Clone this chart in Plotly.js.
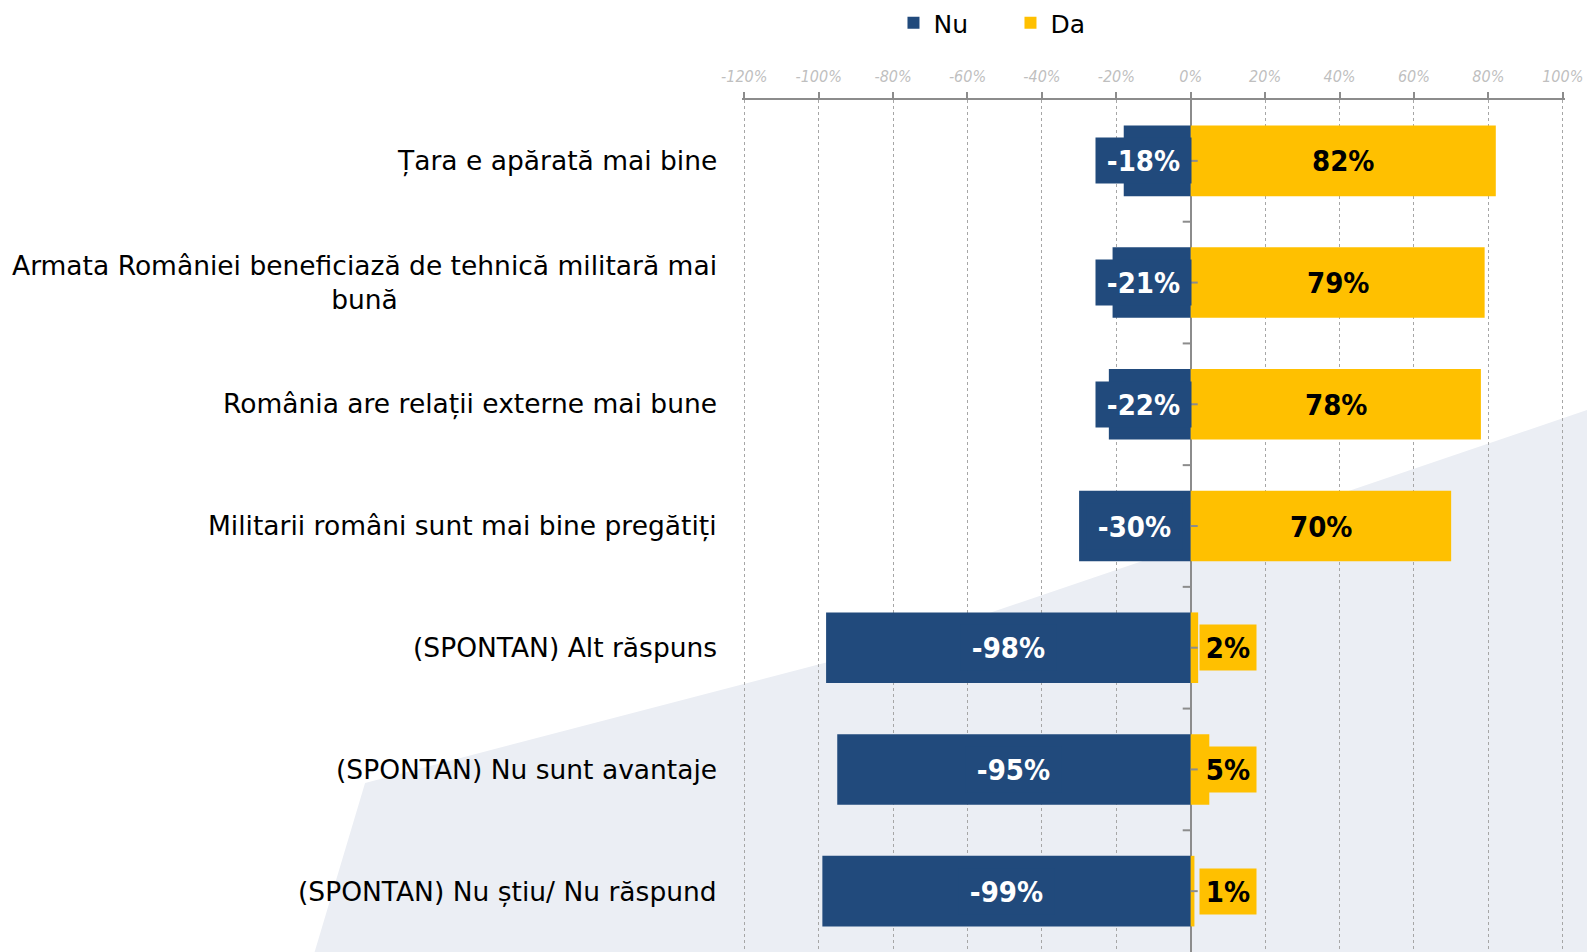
<!DOCTYPE html>
<html>
<head>
<meta charset="utf-8">
<script src="https://cdn.plot.ly/plotly-3.0.1.min.js"></script>
<style>
html,body{margin:0;padding:0;background:#fff;overflow:hidden;}
#chart{width:1587px;height:952px;}
</style>
</head>
<body>
<div id="chart"></div>
<script>
// ---- data ----
const categories = [
  "Țara e apărată mai bine",
  "Armata României beneficiază de tehnică militară mai<br>bună",
  "România are relații externe mai bune",
  "Militarii români sunt mai bine pregătiți",
  "(SPONTAN) Alt răspuns",
  "(SPONTAN) Nu sunt avantaje",
  "(SPONTAN) Nu știu/ Nu răspund"
];
const nuValues = [-18, -21, -22, -30, -98, -95, -99];
const daValues = [82, 79, 78, 70, 2, 5, 1];
const seriesNames = ["Nu", "Da"];
const xTickValues = [-120, -100, -80, -60, -40, -20, 0, 20, 40, 60, 80, 100];
const xTickLabels = ["-120%", "-100%", "-80%", "-60%", "-40%", "-20%", "0%", "20%", "40%", "60%", "80%", "100%"];

// ---- style ----
const NAVY = "#214a7c";
const GOLD = "#ffc000";
const FONT = "'DejaVu Sans', 'Open Sans', sans-serif";
const FONT_C = "'DejaVu Sans Condensed', 'DejaVu Sans', sans-serif";

const traces = [
  {type: "bar", orientation: "h", name: seriesNames[0], y: categories, x: nuValues,
   marker: {color: NAVY}, hoverinfo: "x+y"},
  {type: "bar", orientation: "h", name: seriesNames[1], y: categories, x: daValues,
   marker: {color: GOLD}, hoverinfo: "x+y"}
];

const annotations = [];
categories.forEach((c, i) => {
  // category label
  annotations.push({xref: "paper", yref: "y", x: -0.0275, y: c, xanchor: "right", yanchor: "middle",
    text: c, align: "center", showarrow: false, font: {family: FONT, size: 26.5, color: "#000"}});
  // Nu value label
  const nuText = nuValues[i] + "%";
  annotations.push({xref: "x", yref: "y", x: Math.min(nuValues[i] / 2, -12.7), y: c,
    text: nuText, showarrow: false, bgcolor: NAVY, width: 91, height: 41, borderpad: 2,
    font: {family: FONT_C, size: 29, color: "#fff", weight: "bold"}});
  // Da value label
  const daText = daValues[i] + "%";
  const daAnn = {xref: "x", yref: "y", x: Math.max(daValues[i] / 2, 9.95), y: c,
    text: daText, showarrow: false, bgcolor: GOLD, height: 41, borderpad: 2,
    font: {family: FONT_C, size: 29, color: "#000", weight: "bold"}};
  if (daText.length <= 2) daAnn.width = 52;
  annotations.push(daAnn);
});

const shapes = [
  {type: "path", xref: "paper", yref: "paper", layer: "below",
   path: "M -0.523,-0.012 L -0.458,0.1984 L 0.193,0.3627 L 1.045,0.642 L 1.045,-0.012 Z",
   fillcolor: "#ebeef4", line: {width: 0}}
];
// y-axis tick marks on the zero line
for (let i = 0; i < categories.length; i++) {
  shapes.push({type: "line", xref: "x", yref: "y", xsizemode: "pixel", xanchor: 0, x0: 0, x1: 7,
    y0: i, y1: i, layer: "above", line: {color: "#8c8c8c", width: 2}});
  if (i > 0) {
    shapes.push({type: "line", xref: "x", yref: "y", xsizemode: "pixel", xanchor: 0, x0: -8, x1: 0,
      y0: i - 0.5, y1: i - 0.5, layer: "above", line: {color: "#8c8c8c", width: 2}});
  }
}

const layout = {
  width: 1587, height: 952,
  margin: {l: 742, r: 22, t: 100, b: 0, pad: 0},
  paper_bgcolor: "#ffffff", plot_bgcolor: "rgba(0,0,0,0)",
  barmode: "relative", bargap: 0.42,
  showlegend: true,
  legend: {orientation: "h", xref: "container", yref: "container", x: 0.563, y: 1.0, xanchor: "left", yanchor: "top",
    font: {family: FONT, size: 25, color: "#000"}, entrywidth: 72, entrywidthmode: "pixels",
    bgcolor: "rgba(0,0,0,0)", traceorder: "normal"},
  xaxis: {side: "top", range: [-120.6, 100.6], tickvals: xTickValues, ticktext: xTickLabels,
    tickfont: {family: FONT_C, size: 16, color: "#bfbfbf", style: "italic"},
    ticks: "outside", ticklen: 6, tickcolor: "#8c8c8c", tickwidth: 2, ticklabelstandoff: 4,
    showline: true, linecolor: "#8c8c8c", linewidth: 2,
    showgrid: true, gridcolor: "#a6a6a6", griddash: "dot", gridwidth: 1,
    zeroline: true, zerolinecolor: "#8c8c8c", zerolinewidth: 2, fixedrange: true},
  yaxis: {type: "category", autorange: "reversed", showticklabels: false, ticks: "",
    showgrid: false, zeroline: false, showline: false, fixedrange: true},
  annotations: annotations,
  shapes: shapes
};

Plotly.newPlot("chart", traces, layout, {displayModeBar: false, responsive: false});
</script>
</body>
</html>
